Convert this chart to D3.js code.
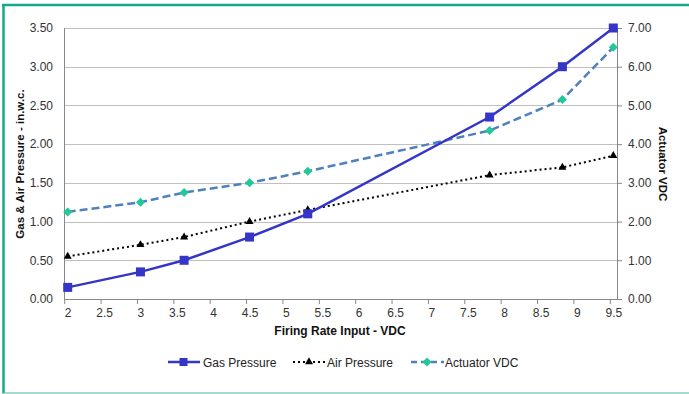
<!DOCTYPE html>
<html><head><meta charset="utf-8">
<script src="https://cdn.jsdelivr.net/npm/d3@7"></script>
<style>
html,body{margin:0;padding:0;background:#fff;}
svg{display:block;font-family:"Liberation Sans",Arial,sans-serif;}
</style></head>
<body>
<svg id="c" width="689" height="394"></svg>
<script>
const firingRate = [2, 3, 3.6, 4.5, 5.3, 7.8, 8.8, 9.5];
const gasPressure = [0.15, 0.35, 0.5, 0.8, 1.1, 2.35, 3.0, 3.5];
const airPressure = [0.55, 0.7, 0.8, 1.0, 1.15, 1.6, 1.7, 1.85];
const actuatorVDC = [2.25, 2.5, 2.75, 3.0, 3.3, 4.35, 5.15, 6.5];
const xTicks = [2, 2.5, 3, 3.5, 4, 4.5, 5, 5.5, 6, 6.5, 7, 7.5, 8, 8.5, 9, 9.5];
const yLeftTicks = [0, 0.5, 1, 1.5, 2, 2.5, 3, 3.5];
const yRightTicks = [0, 1, 2, 3, 4, 5, 6, 7];

const svg = d3.select("#c");
const L = 64, R = 617, T = 28, B = 299;
const x = d3.scaleLinear().domain([2, 9.5]).range([67.7, 613.3]);
const yL = d3.scaleLinear().domain([0, 3.5]).range([B, T]);
const yR = d3.scaleLinear().domain([0, 7]).range([B, T]);

// border
svg.append("line").attr("x1",2).attr("x2",689).attr("y1",5).attr("y2",5).attr("stroke","#17a88c").attr("stroke-width",2.5);
svg.append("line").attr("x1",3.5).attr("x2",3.5).attr("y1",4).attr("y2",393).attr("stroke","#17a88c").attr("stroke-width",2.5);
svg.append("line").attr("x1",2).attr("x2",689).attr("y1",393).attr("y2",393).attr("stroke","#4db89e").attr("stroke-width",1.2);

// gridlines
svg.append("g").selectAll("line").data(yLeftTicks.slice(1)).join("line")
  .attr("x1",L).attr("x2",R).attr("y1",d=>Math.round(yL(d))+0.5).attr("y2",d=>Math.round(yL(d))+0.5)
  .attr("stroke","#c0c0c0").attr("stroke-width",1);

const tickFont = 12, tickColor = "#333";

// bottom axis
const gx = svg.append("g").attr("transform",`translate(0,${B})`)
  .call(d3.axisBottom(x).tickValues(xTicks).tickFormat(d3.format("")).tickSize(0).tickPadding(9));
gx.select(".domain").remove();
gx.selectAll(".tick line").remove();
gx.selectAll(".tick").append("line").attr("x1",-3.5).attr("x2",-3.5).attr("y1",0).attr("y2",5).attr("stroke","#888");
gx.selectAll("text").attr("font-size",tickFont).attr("fill",tickColor).attr("font-family","Liberation Sans, Arial");
svg.append("line").attr("x1",L).attr("x2",R).attr("y1",B+0.5).attr("y2",B+0.5).attr("stroke","#888");

// left axis
const gl = svg.append("g").attr("transform",`translate(${L},0)`)
  .call(d3.axisLeft(yL).tickValues(yLeftTicks).tickFormat(d3.format(".2f")).tickSize(0).tickPadding(11));
gl.select(".domain").remove();
gl.selectAll("text").attr("font-size",tickFont).attr("fill",tickColor).attr("font-family","Liberation Sans, Arial");
svg.append("line").attr("x1",L+0.5).attr("x2",L+0.5).attr("y1",T).attr("y2",B).attr("stroke","#888");

// right axis
const gr = svg.append("g").attr("transform",`translate(${R},0)`)
  .call(d3.axisRight(yR).tickValues(yRightTicks).tickFormat(d3.format(".2f")).tickSize(5).tickPadding(6));
gr.select(".domain").remove();
gr.selectAll(".tick line").attr("stroke","#888");
gr.selectAll("text").attr("font-size",tickFont).attr("fill",tickColor).attr("font-family","Liberation Sans, Arial");
svg.append("line").attr("x1",R+0.5).attr("x2",R+0.5).attr("y1",T).attr("y2",B).attr("stroke","#888");

// axis titles
svg.append("text").attr("x",340).attr("y",335).attr("text-anchor","middle")
  .attr("font-size",12).attr("font-weight","bold").attr("fill","#111").text("Firing Rate Input - VDC");
svg.append("text").attr("transform","translate(24,164) rotate(-90)").attr("text-anchor","middle")
  .attr("font-size",11.5).attr("font-weight","bold").attr("fill","#111").text("Gas & Air Pressure - in.w.c.");
svg.append("text").attr("transform","translate(659,164) rotate(90)").attr("text-anchor","middle")
  .attr("font-size",11.5).attr("font-weight","bold").attr("fill","#111").text("Actuator VDC");

const gasColor = "#3535c8", airColor = "#000", actColor = "#4f81bd", actMarker = "#20c997";

const idx = d3.range(firingRate.length);
// Air
svg.append("path").datum(idx).attr("fill","none").attr("stroke",airColor).attr("stroke-width",2)
  .attr("stroke-dasharray","2,3")
  .attr("d",d3.line().x(i=>x(firingRate[i])).y(i=>yL(airPressure[i])));
// Actuator
svg.append("path").datum(idx).attr("fill","none").attr("stroke",actColor).attr("stroke-width",2.5)
  .attr("stroke-dasharray","8,4")
  .attr("d",d3.line().x(i=>x(firingRate[i])).y(i=>yR(actuatorVDC[i])));
// Gas
svg.append("path").datum(idx).attr("fill","none").attr("stroke",gasColor).attr("stroke-width",2.5)
  .attr("d",d3.line().x(i=>x(firingRate[i])).y(i=>yL(gasPressure[i])));

const tri = d3.symbol().type(d3.symbolTriangle).size(28);
const dia = (cx,cy,r)=>`M${cx},${cy-r}L${cx+r},${cy}L${cx},${cy+r}L${cx-r},${cy}Z`;

svg.append("g").selectAll("path").data(idx).join("path")
  .attr("d",tri).attr("transform",i=>`translate(${x(firingRate[i])},${yL(airPressure[i])})`).attr("fill",airColor);
svg.append("g").selectAll("path").data(idx).join("path")
  .attr("d",i=>dia(x(firingRate[i]),yR(actuatorVDC[i]),4.5)).attr("fill",actMarker);
svg.append("g").selectAll("rect").data(idx).join("rect")
  .attr("x",i=>x(firingRate[i])-4.5).attr("y",i=>yL(gasPressure[i])-4.5).attr("width",9).attr("height",9).attr("fill",gasColor);

// legend
const ly = 362;
const lg = svg.append("g");
lg.append("line").attr("x1",168).attr("x2",200).attr("y1",ly).attr("y2",ly).attr("stroke",gasColor).attr("stroke-width",2.5);
lg.append("rect").attr("x",179.5).attr("y",ly-4).attr("width",8).attr("height",8).attr("fill",gasColor);
lg.append("text").attr("x",203).attr("y",ly+4.5).attr("font-size",12).attr("fill","#222").text("Gas Pressure");

lg.append("line").attr("x1",293).attr("x2",325).attr("y1",ly).attr("y2",ly).attr("stroke",airColor).attr("stroke-width",2).attr("stroke-dasharray","2,3");
lg.append("path").attr("d",tri).attr("transform",`translate(309,${ly})`).attr("fill",airColor);
lg.append("text").attr("x",327).attr("y",ly+4.5).attr("font-size",12).attr("fill","#222").text("Air Pressure");

lg.append("line").attr("x1",411).attr("x2",444).attr("y1",ly).attr("y2",ly).attr("stroke",actColor).attr("stroke-width",2.5).attr("stroke-dasharray","6,4");
lg.append("path").attr("d",dia(427,ly,4.5)).attr("fill",actMarker);
lg.append("text").attr("x",445).attr("y",ly+4.5).attr("font-size",12).attr("fill","#222").text("Actuator VDC");
</script>
</body></html>
